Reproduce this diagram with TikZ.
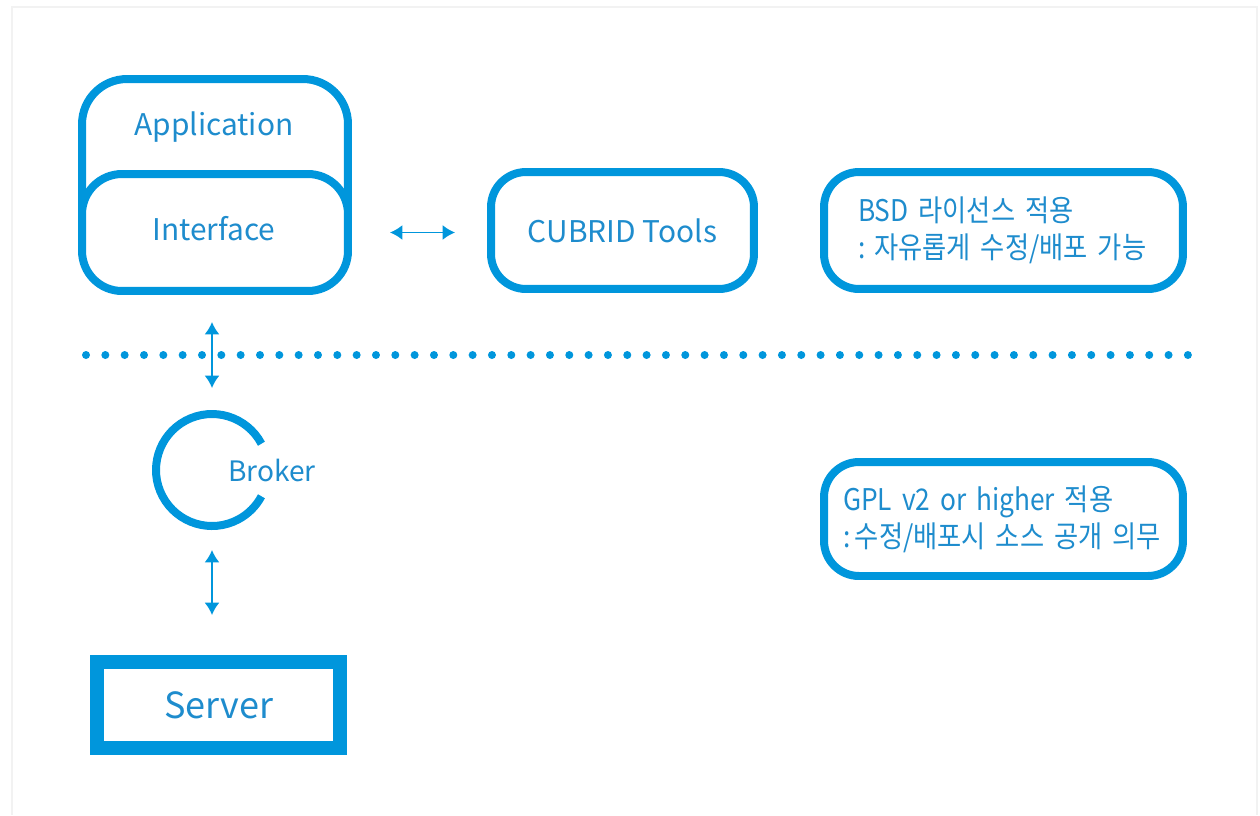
\documentclass[tikz,border=0pt]{standalone}
\usepackage{fontspec}
\setmainfont{Noto Sans CJK KR}
\newfontfamily\korfont[FakeStretch=0.88]{Noto Sans CJK KR}
\usetikzlibrary{arrows.meta}
\definecolor{cubblue}{RGB}{0,150,220}
\definecolor{cubtext}{RGB}{30,140,205}
\tikzset{
  layer/.style={draw=cubblue,line width=0.16cm,rounded corners=#1,inner sep=0pt},
  layer/.default=0.8cm,
  lic/.style={draw=cubblue,line width=0.16cm,rounded corners=0.7cm,minimum width=7.18cm,
    align=left,text=cubtext,font=\korfont\fontsize{17}{21}\selectfont},
  lbl/.style={text=cubtext,font=\fontsize{17}{21}\selectfont},
  link/.style={{Latex[length=7pt,width=8.5pt]}-{Latex[length=7pt,width=8.5pt]},cubblue,line width=1.1pt}
}
\begin{document}
\begin{tikzpicture}[x=0.02cm,y=-0.02cm]
\useasboundingbox (0,0) rectangle (1260,815);
% faint frame
\draw[gray!10,line width=0.6pt] (12,815) -- (12,7) -- (1257,7) -- (1257,815);

% Client stack
\node[layer=0.9cm,minimum width=5.32cm,minimum height=4.24cm] (app) at (215,185) {};
\node[layer,fill=white,minimum width=5.32cm,minimum height=2.34cm] (iface) at (215,232.5) {};
\node[lbl] (apptxt) at (214,127) {Application};
\node[lbl] (ifacetxt) at (214,229) {Interface};

% Tools
\node[layer=0.7cm,minimum width=5.26cm,minimum height=2.34cm,lbl] (tools) at (622.5,230.5) {CUBRID Tools};

% Licence notes
\node[lic,minimum height=2.34cm,inner xsep=0.68cm,text width=5.82cm] (bsd) at (1003.5,230.5)
  {BSD 라이선스 적용\\:\hspace{0.3em}자유롭게 수정/배포 가능};
\node[lic,minimum height=2.28cm,inner xsep=0.38cm,text width=6.42cm] (gpl) at (1003.5,519)
  {GPL v2 or higher 적용\\:\hspace{0.15em}수정/배포시 소스 공개 의무};

% Boundary
\draw[cubblue,line width=0.16cm,line cap=round,dash pattern=on 0pt off 0.3867cm] (86,355) -- (1188,355);

% Broker
\coordinate (bk) at (212,470);
\draw[cubblue,line width=0.16cm] ([shift={(28:1.12cm)}]bk) arc[start angle=28,end angle=332,radius=1.12cm];
\node[text=cubtext,font=\fontsize{16}{20}\selectfont] (broker) at (272,470) {Broker};

% Server
\node[draw=cubblue,line width=0.28cm,minimum width=4.86cm,minimum height=1.72cm,
  text=cubtext,font=\fontsize{20.5}{25}\selectfont] (server) at (218.5,705) {Server};

% Connections
\draw[link] ([xshift=0.76cm]iface.east) -- ([xshift=-0.64cm]tools.west |- iface.east);
\draw[link] ([yshift=-0.54cm]iface.south -| bk) -- ([yshift=1.64cm]bk);
\draw[link] ([yshift=-1.6cm]bk) -- ([yshift=0.8cm]server.north -| bk);

\end{tikzpicture}
\end{document}
